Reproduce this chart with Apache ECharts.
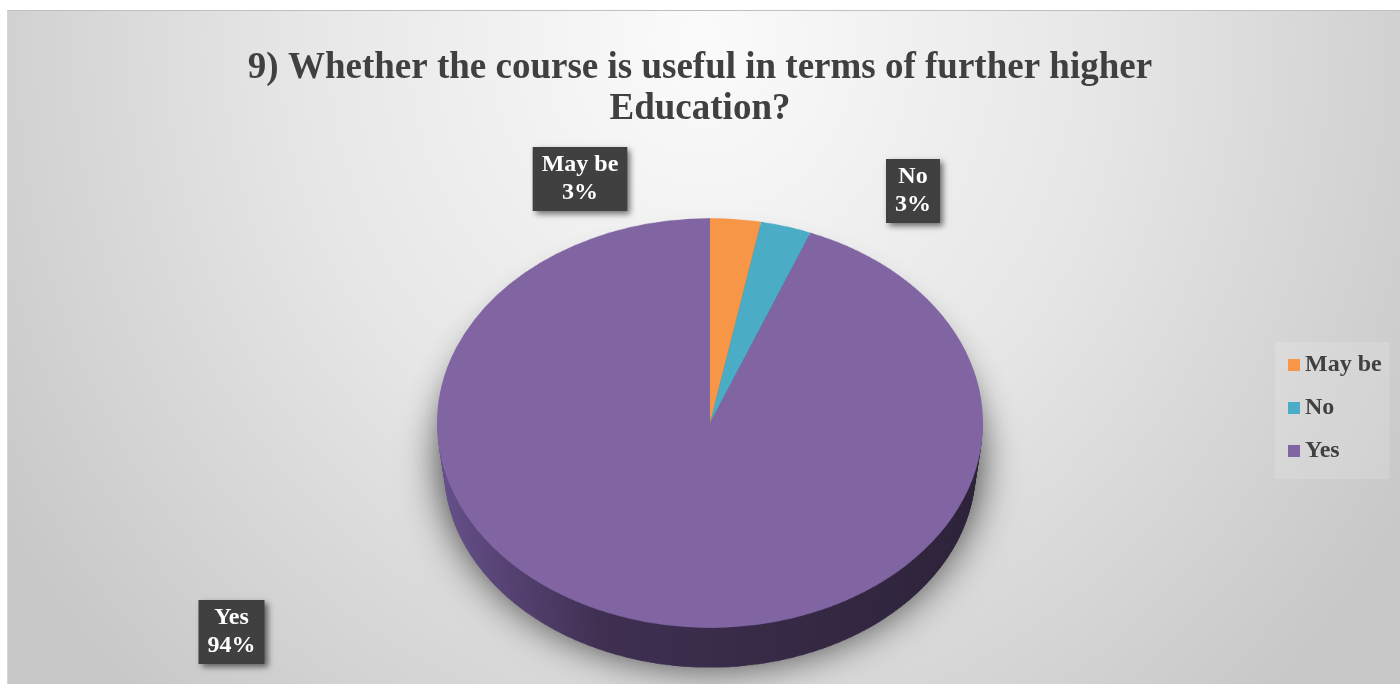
<!DOCTYPE html>
<html><head><meta charset="utf-8">
<script src="https://cdn.jsdelivr.net/npm/echarts@6/dist/echarts.min.js"></script>
<style>
html,body{margin:0;padding:0;width:1400px;height:684px;overflow:hidden;background:#fff;}
#bg{position:absolute;left:7px;top:10px;width:1393px;height:674px;box-sizing:border-box;border-top:1px solid #bfbfbf;border-left:1px solid #d6d6d6;
background:radial-gradient(ellipse 820px 900px at 693px 30px,#fbfbfb 0%,#e6e6e6 50%,#c8c8c8 100%);}
#pie{position:absolute;left:0;top:0;width:1400px;height:912px;transform:scaleY(0.75);transform-origin:0 0;}
#ov{position:absolute;left:0;top:0;width:1400px;height:684px;}
</style></head><body>
<div id="bg"></div><div id="pie"></div><div id="ov"></div>
<script>
// ---- data ----
const categories = ['May be', 'No', 'Yes'];
const values = [3, 3, 94];
const titleLines = ['9) Whether the course is useful in terms of further higher', 'Education?'];

// ---- styles / layout ----
const topColors = ['#f79646', '#4bacc6', '#8165a3'];
const sideColors = [
  '#b86a2c',
  '#2f7f95',
  new echarts.graphic.LinearGradient(0, 0, 1, 0, [
    {offset: 0, color: '#66508a'},
    {offset: 0.3, color: '#3f3052'},
    {offset: 1, color: '#2d2339'}
  ])
];
const SCALE = 0.75;           // vertical squash of the pie (tilt)
const CX = 710, CY_SCREEN = 423, R = 273, R_BOTTOM = 266, DEPTH_SCREEN = 45;
const CY = CY_SCREEN / SCALE, DEPTH = DEPTH_SCREEN / SCALE;
const N_LAYERS = 14;
const LABEL_POS = [[580, 179], [913, 191], [231.5, 632]];
const FONT = '"Liberation Serif", "Times New Roman", serif';

function pieLayer(offset, radius, colors, extraItemStyle) {
  return {
    type: 'pie', center: [CX, CY + offset], radius: radius,
    startAngle: 90, clockwise: true, silent: true, animation: false,
    label: {show: false}, labelLine: {show: false}, emphasis: {disabled: true},
    itemStyle: Object.assign({borderWidth: 0}, extraItemStyle || {}),
    data: categories.map((n, i) => ({name: n, value: values[i], itemStyle: {color: colors[i]}}))
  };
}

const pieSeries = [];
// soft drop-shadow casters, drawn first (their fills are hidden beneath the body)
pieSeries.push(pieLayer(DEPTH, R_BOTTOM, sideColors, {shadowBlur: 45, shadowColor: 'rgba(0,0,0,0.55)', shadowOffsetY: 6}));
pieSeries.push(pieLayer(DEPTH * 0.4, R_BOTTOM + 2, sideColors, {shadowBlur: 35, shadowColor: 'rgba(0,0,0,0.4)', shadowOffsetY: 0}));
// side (depth) layers
for (let k = N_LAYERS; k >= 1; k--) {
  const t = k / N_LAYERS;
  pieSeries.push(pieLayer(DEPTH * t, R + (R_BOTTOM - R) * t, sideColors, null));
}
// top face
pieSeries.push(pieLayer(0, R, topColors, null));

const pieChart = echarts.init(document.getElementById('pie'), null, {renderer: 'canvas'});
pieChart.setOption({animation: false, series: pieSeries});

const ov = echarts.init(document.getElementById('ov'), null, {renderer: 'canvas'});
ov.setOption({
  animation: false,
  title: {
    text: titleLines.join('\n'), left: 'center', top: 48, padding: 0,
    textStyle: {fontFamily: FONT, fontSize: 37, fontWeight: 'bold', color: '#404040', lineHeight: 41}
  },
  legend: {
    orient: 'vertical', left: 1275, top: 342, padding: [11, 8, 16, 13],
    itemWidth: 12, itemHeight: 12, itemGap: 19, icon: 'rect', selectedMode: false,
    backgroundColor: 'rgba(255,255,255,0.14)',
    textStyle: {fontFamily: FONT, fontSize: 24, fontWeight: 'bold', color: '#404040', lineHeight: 24},
    data: categories.map((n, i) => ({name: n, itemStyle: {color: topColors[i]}}))
  },
  series: [{
    type: 'pie', center: [CX, CY_SCREEN], radius: R, startAngle: 90, clockwise: true,
    silent: true, emphasis: {disabled: true},
    itemStyle: {color: 'rgba(0,0,0,0)', borderWidth: 0},
    label: {
      show: true, position: 'outside', formatter: '{b}\n{d}%',
      color: '#ffffff', fontFamily: FONT, fontSize: 24, fontWeight: 'bold', lineHeight: 28,
      backgroundColor: '#404040', padding: [4, 9],
      shadowBlur: 6, shadowColor: 'rgba(0,0,0,0.55)', shadowOffsetX: 3, shadowOffsetY: 3
    },
    labelLine: {show: false},
    labelLayout: function (params) {
      const p = LABEL_POS[params.dataIndex];
      return {x: p[0], y: p[1], align: 'center', verticalAlign: 'middle'};
    },
    data: categories.map((n, i) => ({name: n, value: values[i]}))
  }]
});
</script>
</body></html>
